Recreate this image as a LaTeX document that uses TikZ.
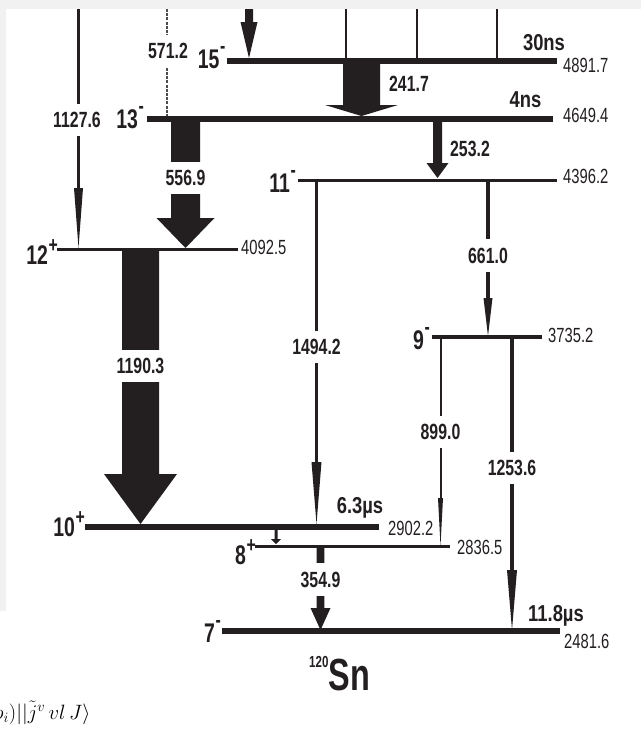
\documentclass[tikz,border=0pt]{standalone}
\usepackage{fontspec}
\newfontfamily\cnd[FakeStretch=0.72]{Liberation Sans}
\newfontfamily\cndw[FakeStretch=0.8]{Liberation Sans}
\definecolor{ink}{HTML}{231F20}
\definecolor{stripgray}{HTML}{F1F1F1}
% thin transition with narrow arrowhead: x, ytop, ybot, linewidth, head half width, head length
\newcommand\gline[6]{%
  \draw[ink,line width=#4] (#1,#2) -- (#1,#3-#6+1);
  \fill[ink] (#1-#5,#3-#6) -- (#1+#5,#3-#6) -- (#1,#3) -- cycle;}
% block arrow: x, ytop, ybot, body half width, head half width, head length
\newcommand\barrow[6]{%
  \fill[ink] (#1-#4,#2) -- (#1+#4,#2) -- (#1+#4,#3-#6) -- (#1+#5,#3-#6) -- (#1,#3)
     -- (#1-#5,#3-#6) -- (#1-#4,#3-#6) -- cycle;}
\newcommand\spinm[1]{#1\kern0.5pt\raisebox{15pt}{\fontsize{22}{22}\selectfont -}}
\newcommand\spinp[1]{#1\kern0.5pt\raisebox{12pt}{\fontsize{22}{22}\selectfont +}}
\begin{document}
\begin{tikzpicture}[x=1pt,y=-1pt,
  lvlthick/.style={ink,line width=6pt},
  lvlthin/.style={ink,line width=3pt},
  tlab/.style={fill=white,text=ink,inner xsep=1pt,inner ysep=8.5pt,font=\cnd\bfseries\fontsize{22}{22}\selectfont},
  plab/.style={text=ink,inner sep=0pt,font=\cnd\bfseries\fontsize{22}{22}\selectfont},
  elab/.style={text=ink,inner sep=0pt,anchor=west,font=\cnd\fontsize{20.5}{20.5}\selectfont},
  slab/.style={text=ink,inner sep=0pt,anchor=base east,font=\cnd\bfseries\fontsize{27}{27}\selectfont},
  life/.style={text=ink,inner sep=0pt,anchor=base,font=\cndw\bfseries\fontsize{23}{23}\selectfont},
]
\useasboundingbox (0,0) rectangle (641,736);
\fill[white] (0,0) rectangle (641,736);
\fill[stripgray] (0,0) rectangle (641,9);
\fill[stripgray] (0,9) rectangle (6,611);
\clip (0,0) rectangle (641,736);

% level end points
\coordinate (a15) at (227,60.5); \coordinate (b15) at (557,60.5);
\coordinate (a13) at (147,118.5); \coordinate (b13) at (553,118.5);
\coordinate (a11) at (298,180.5); \coordinate (b11) at (557,180.5);
\coordinate (a12) at (57,249);    \coordinate (b12) at (238,249);
\coordinate (a9) at (432,337);    \coordinate (b9) at (542,337);
\coordinate (a10) at (85,526.5);  \coordinate (b10) at (379,526.5);
\coordinate (a8) at (255,546);    \coordinate (b8) at (450,546);
\coordinate (a7) at (222,631);    \coordinate (b7) at (560,631);

% feeding lines from above
\draw[ink,line width=1.8pt] (346,9) -- (346,60);
\draw[ink,line width=1.8pt] (417,9) -- (417,60);
\draw[ink,line width=1.8pt] (497,9) -- (497,60);
\barrow{249}{9}{58}{4}{8.5}{36}
\gline{78.5}{9}{248}{3.5pt}{4.5}{60}
\draw[ink!80,line width=2pt,dash pattern=on 3pt off 1.2pt] (167,9) -- (167,116);

% transitions
\barrow{361.5}{62}{116}{18.5}{36.5}{11}
\barrow{437.5}{120}{178}{4.5}{11}{15}
\barrow{185.5}{120}{248}{14.5}{29}{30}
\gline{316.5}{181}{524}{2.5pt}{5}{62}
\gline{488}{181}{336}{4pt}{4.5}{38}
\barrow{140.5}{249}{524}{18.5}{36.5}{50}
\gline{440.5}{337}{546}{2pt}{2.5}{48}
\gline{512}{337}{630}{4pt}{5}{60}
\barrow{276}{528}{544}{1.5}{5}{5}
\barrow{320.5}{546}{630}{3.8}{10}{22}

% levels
\draw[lvlthick] (a15) -- (b15);
\draw[lvlthick] (a13) -- (b13);
\draw[lvlthin] (a11) -- (b11);
\draw[lvlthin] (a12) -- (b12);
\draw[ink,line width=3.5pt] (a9) -- (b9);
\draw[lvlthick] (a10) -- (b10);
\draw[lvlthin] (a8) -- (b8);
\draw[lvlthick] (a7) -- (b7);

% transition labels
\node[tlab] (t571) at (168,51) {571.2};
\node[tlab] (t1127) at (77,120) {1127.6};
\node[plab] (t241) at (409,84) {241.7};
\node[plab] (t253) at (470,149) {253.2};
\node[tlab] (t556) at (185.5,178) {556.9};
\node[tlab] (t661) at (488,255.5) {661.0};
\node[tlab] (t1494) at (316.5,347) {1494.2};
\node[tlab] (t1190) at (140.5,366) {1190.3};
\node[tlab] (t899) at (440.5,432) {899.0};
\node[tlab] (t1253) at (512,468) {1253.6};
\node[tlab] (t354) at (320.5,579.5) {354.9};

% energies
\node[elab] (e15) at (563,65.5) {4891.7};
\node[elab] (e13) at (563,115.5) {4649.4};
\node[elab] (e11) at (563,176.5) {4396.2};
\node[elab] (e12) at (241,247) {4092.5};
\node[elab] (e9) at (548,335) {3735.2};
\node[elab] (e10) at (388,528.5) {2902.2};
\node[elab] (e8) at (457,547.5) {2836.5};
\node[elab] (e7) at (564,641) {2481.6};

% spins
\node[slab] (s15) at (225.5,68) {\spinm{15}};
\node[slab] (s13) at (144,128) {\spinm{13}};
\node[slab] (s11) at (296,192) {\spinm{11}};
\node[slab] (s12) at (58,264) {\spinp{12}};
\node[slab] (s9) at (430,349) {\spinm{9}};
\node[slab] (s10) at (85,536) {\spinp{10}};
\node[slab] (s8) at (256,564) {\spinp{8}};
\node[slab] (s7) at (221,642) {\spinm{7}};

% lifetimes
\node[life] (l15) at (544,50) {30ns};
\node[life] (l13) at (525.5,107) {4ns};
\node[life] (l10) at (360,513) {6.3µs};
\node[life] (l7) at (556,621) {11.8µs};

% nucleus
\node[anchor=base west,inner sep=0pt,text=ink] (nuc) at (309,690)
  {\cnd\bfseries\raisebox{23pt}{\fontsize{16}{16}\selectfont 120}\fontsize{45}{45}\selectfont Sn};

% fragment of formula
\node[anchor=base west,inner sep=0pt,text=black] (frag) at (-7,719)
  {\fontsize{20}{24}\selectfont$\rho_i)||\tilde{j}^{v}\,vl\,J\rangle$};
\end{tikzpicture}
\end{document}
